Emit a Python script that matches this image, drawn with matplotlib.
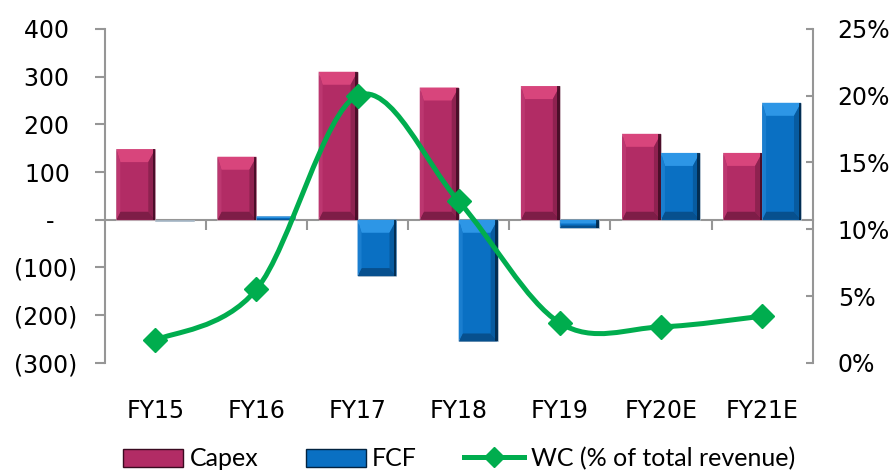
import numpy as np
import matplotlib.pyplot as plt
from matplotlib.path import Path
from matplotlib.patches import PathPatch, Polygon, Patch
from matplotlib.lines import Line2D
from matplotlib.ticker import FuncFormatter

years = ["FY15", "FY16", "FY17", "FY18", "FY19", "FY20E", "FY21E"]
capex = [148, 132, 310, 277, 280, 180, 140]
fcf = [-3, 7, -118, -255, -17, 140, 245]
wc_pct = [1.7, 5.5, 20.0, 12.1, 3.0, 2.7, 3.5]

CAPEX = dict(base="#B22C65", top="#D8457C", right="#8E2250", bottom="#7E1D47",
             left="#BC3770", edge="#3A0A20")
FCF = dict(base="#0A70C3", top="#2D96E6", right="#075BA0", bottom="#07508E",
           left="#1A7ECF", edge="#022340")
GREEN = "#00AD4E"
GRAY = "#969696"

plt.rcParams["font.family"] = ["DejaVu Sans"]
plt.rcParams["font.size"] = 17

fig = plt.figure(figsize=(8.95, 4.72), dpi=100)
ax = fig.add_axes([0.117, 0.231, 0.791, 0.708])
ax2 = ax.twinx()

x = np.arange(len(years))
bw = 0.385
ax.set_xlim(-0.5, len(years) - 0.5)
ax.set_ylim(-300, 400)
ax2.set_ylim(0, 25)


def bevel_bars(xs, vals, style):
    """Flat bar plus light/dark bevel faces sized in screen pixels."""
    bars = ax.bar(xs, vals, bw, color=style["base"], edgecolor="#C8C8C8",
                  linewidth=0.5, zorder=2)
    fig.canvas.draw()
    inv = ax.transData.inverted()
    for b in bars:
        x0, y0 = b.get_x(), b.get_y()
        x1, y1 = x0 + b.get_width(), y0 + b.get_height()
        if y1 < y0:
            y0, y1 = y1, y0
        (px0, py0), (px1, py1) = ax.transData.transform([(x0, y0), (x1, y1)])
        h = py1 - py0
        if h < 3:
            continue
        s = min(1.0, h / 28)
        dt, db, dl, dr = 13 * s, 8 * s, 4 * s, 7 * s
        (ix0, iy0), (ix1, iy1) = inv.transform([(px0 + dl, py0 + db), (px1 - dr, py1 - dt)])
        faces = [
            ([(x0, y1), (x1, y1), (ix1, iy1), (ix0, iy1)], style["top"]),
            ([(x1, y1), (x1, y0), (ix1, iy0), (ix1, iy1)], style["right"]),
            ([(x0, y0), (x1, y0), (ix1, iy0), (ix0, iy0)], style["bottom"]),
            ([(x0, y0), (x0, y1), (ix0, iy1), (ix0, iy0)], style["left"]),
        ]
        for pts, c in faces:
            ax.add_patch(Polygon(pts, closed=True, facecolor=c, edgecolor="none", zorder=2.1))
        (ex, _), = inv.transform([(px1 - 2.5, py0)])
        ax.add_patch(Polygon([(ex, y0), (x1, y0), (x1, y1), (ex, y1)], closed=True,
                             facecolor=style["edge"], edgecolor="none", alpha=0.8, zorder=2.2))
    return bars


bevel_bars(x - bw / 2, capex, CAPEX)
bevel_bars(x + bw / 2, fcf, FCF)

# smoothed WC line: Catmull-Rom segments as cubic Bezier curves
pts = np.column_stack([x, wc_pct]).astype(float)
ext = np.vstack([pts[0], pts, pts[-1]])
verts = [tuple(pts[0])]
codes = [Path.MOVETO]
for i in range(1, len(ext) - 2):
    p0, p1, p2, p3 = ext[i - 1], ext[i], ext[i + 1], ext[i + 2]
    c1 = p1 + (p2 - p0) / 6
    c2 = p2 - (p3 - p1) / 6
    verts += [tuple(c1), tuple(c2), tuple(p2)]
    codes += [Path.CURVE4] * 3
ax2.add_patch(PathPatch(Path(verts, codes), facecolor="none", edgecolor=GREEN,
                        lw=3.6, zorder=3, capstyle="round"))
ax2.plot(x, wc_pct, linestyle="none", marker="D", markersize=12, color=GREEN, zorder=4)

# left axis
ax.spines["top"].set_visible(False)
ax.spines["bottom"].set_visible(False)
ax.spines["right"].set_visible(False)
ax.spines["left"].set_color(GRAY)
ax.spines["left"].set_linewidth(1.5)
ax.set_yticks(range(-300, 401, 100))


def money(v, _):
    if v == 0:
        return "-   "
    if v < 0:
        return f"({abs(v):.0f})"
    return f"{v:.0f} "


ax.yaxis.set_major_formatter(FuncFormatter(money))
ax.tick_params(axis="y", direction="out", length=7, width=1.5, color=GRAY, pad=13)
ax.set_xticks(x)
ax.set_xticklabels(years)
ax.tick_params(axis="x", length=0, pad=26)

# zero line with category separators
zero = ax.secondary_xaxis(300 / 700)
zero.spines["bottom"].set_color(GRAY)
zero.spines["bottom"].set_linewidth(1.5)
zero.set_xticks(np.arange(0.5, len(years) - 1, 1.0))
zero.tick_params(axis="x", direction="out", length=7, width=1.5, color=GRAY, labelbottom=False)

# right axis
for s in ["top", "bottom", "left"]:
    ax2.spines[s].set_visible(False)
ax2.spines["right"].set_color(GRAY)
ax2.spines["right"].set_linewidth(1.5)
ax2.set_yticks(range(0, 26, 5))
ax2.yaxis.set_major_formatter(FuncFormatter(lambda v, _: f"{v:.0f}%"))
ax2.tick_params(axis="y", direction="in", length=5, width=1.5, color=GRAY, pad=18)

handles = [
    Patch(facecolor=CAPEX["base"], edgecolor=CAPEX["edge"]),
    Patch(facecolor=FCF["base"], edgecolor=FCF["edge"]),
    Line2D([], [], color=GREEN, lw=3.6, marker="D", markersize=10),
]
fig.legend(handles, ["Capex", "FCF", "WC (% of total revenue)"], loc="center",
           bbox_to_anchor=(0.513, 0.028), ncol=3, frameon=False, handlelength=2.4,
           handleheight=0.75, handletextpad=0.25, columnspacing=1.9, borderaxespad=0,
           prop=dict(family="Lato", size=18))

fig.savefig("out.png", dpi=100)
